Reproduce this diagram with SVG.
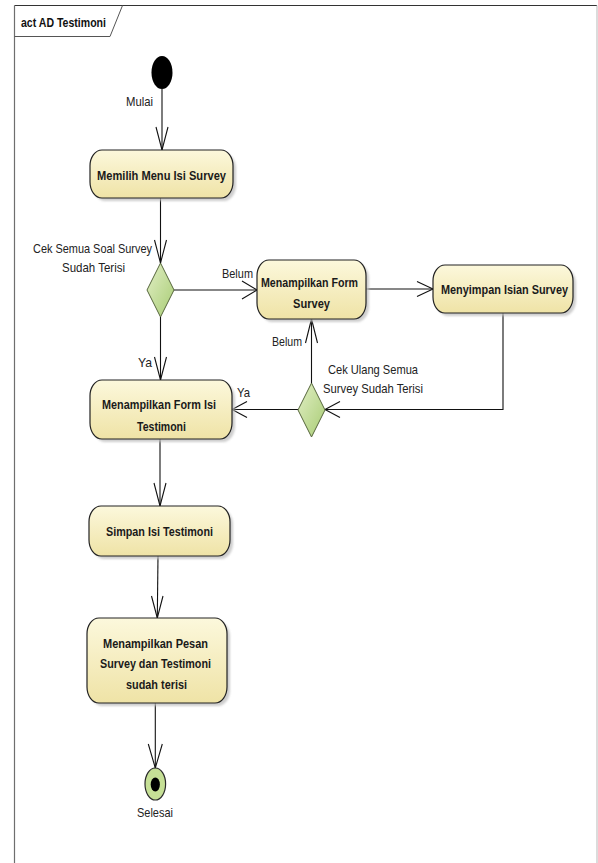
<svg xmlns="http://www.w3.org/2000/svg" width="598" height="863" viewBox="0 0 598 863">
  <defs>
    <linearGradient id="actFill" x1="0" y1="0" x2="0" y2="1">
      <stop offset="0" stop-color="#fcf8dc"/>
      <stop offset="1" stop-color="#efe3a6"/>
    </linearGradient>
    <linearGradient id="decFill" x1="0" y1="0" x2="1" y2="1">
      <stop offset="0" stop-color="#e2efc6"/>
      <stop offset="1" stop-color="#a8cc74"/>
    </linearGradient>
    <filter id="soft" x="-10%" y="-10%" width="130%" height="140%">
      <feGaussianBlur stdDeviation="1.2"/>
    </filter>
    <style>
      .frame { fill: none; stroke: #555; stroke-width: 1; }
      .shadow { fill: #bdbdbd; opacity: 0.75; filter: url(#soft); }
      .act { fill: url(#actFill); stroke: #222; stroke-width: 1.2; }
      .dec { fill: url(#decFill); stroke: #56663c; stroke-width: 1; }
      .edge { fill: none; stroke: #111; stroke-width: 1.1; }
      .head { fill: none; stroke: #111; stroke-width: 1.1; }
      .t-act { font-family: "Liberation Sans", Arial, sans-serif; font-size: 13.5px; font-weight: bold; fill: #1a1a1a; text-anchor: middle; }
      .t-lbl { font-family: "Liberation Sans", Arial, sans-serif; font-size: 13px; fill: #222; }
      .t-title { font-family: "Liberation Sans", Arial, sans-serif; font-size: 13px; font-weight: bold; fill: #111; }
    </style>
  </defs>

  <rect width="598" height="863" fill="#ffffff"/>

  <!-- diagram frame with name tab -->
  <g id="frame">
    <line x1="14.5" y1="5.5" x2="597" y2="5.5" stroke="#333" stroke-width="1"/>
    <line x1="14.5" y1="5.5" x2="14.5" y2="863" stroke="#6e6e6e" stroke-width="1.2"/>
    <line x1="597" y1="5.5" x2="597" y2="863" stroke="#c4c4c4" stroke-width="1.2"/>
    <path d="M14.5 36.5 H110 L122.5 5.5" class="frame" stroke="#333"/>
    <text class="t-title" x="21" y="27" textLength="85" lengthAdjust="spacingAndGlyphs">act AD Testimoni</text>
  </g>

  <!-- connectors -->
  <g id="connectors">
    <!-- start to Memilih Menu -->
    <line class="edge" x1="162" y1="89" x2="162" y2="150"/>
    <polyline class="head" points="156,127 162,150 168,127"/>
    <text class="t-lbl" x="126" y="106" textLength="27" lengthAdjust="spacingAndGlyphs">Mulai</text>

    <!-- Memilih Menu to first decision -->
    <line class="edge" x1="160.5" y1="198" x2="160.5" y2="263"/>
    <polyline class="head" points="154.5,240 160.5,263 166.5,240"/>

    <!-- decision to Menampilkan Form Survey (Belum) -->
    <line class="edge" x1="174" y1="290" x2="257" y2="290"/>
    <polyline class="head" points="242,281 257,290 242,299"/>
    <text class="t-lbl" x="222" y="278" textLength="31" lengthAdjust="spacingAndGlyphs">Belum</text>

    <!-- Form Survey to Menyimpan -->
    <line class="edge" x1="366" y1="289" x2="433" y2="289"/>
    <polyline class="head" points="417,281.5 433,289 417,296.5"/>

    <!-- Menyimpan back to second decision -->
    <polyline class="edge" points="503,313 503,409.5 325,409.5"/>
    <polyline class="head" points="340,401.5 325,409.5 340,417.5"/>

    <!-- second decision up to Form Survey (Belum) -->
    <line class="edge" x1="311.5" y1="383" x2="311.5" y2="319"/>
    <polyline class="head" points="305.5,343 311.5,319 317.5,343"/>
    <text class="t-lbl" x="272" y="346" textLength="30" lengthAdjust="spacingAndGlyphs">Belum</text>

    <!-- second decision to Form Isi Testimoni (Ya) -->
    <line class="edge" x1="298" y1="409.5" x2="232" y2="409.5"/>
    <polyline class="head" points="247,401.5 232,409.5 247,417.5"/>
    <text class="t-lbl" x="237" y="397" textLength="13" lengthAdjust="spacingAndGlyphs">Ya</text>

    <!-- first decision to Form Isi Testimoni (Ya) -->
    <line class="edge" x1="160.5" y1="317" x2="160.5" y2="380"/>
    <polyline class="head" points="154.5,357 160.5,380 166.5,357"/>
    <text class="t-lbl" x="138" y="367" textLength="14" lengthAdjust="spacingAndGlyphs">Ya</text>

    <!-- Form Isi Testimoni to Simpan -->
    <line class="edge" x1="160" y1="439" x2="160" y2="506"/>
    <polyline class="head" points="154,483 160,506 166,483"/>

    <!-- Simpan to Pesan -->
    <line class="edge" x1="158" y1="556" x2="157.3" y2="618"/>
    <polyline class="head" points="151.5,596 157.3,618 163,596"/>

    <!-- Pesan to end -->
    <line class="edge" x1="155.3" y1="703" x2="155.3" y2="768"/>
    <polyline class="head" points="148.3,744 155.3,768 162.3,744"/>
  </g>

  <!-- initial node -->
  <g id="start">
    <ellipse cx="162" cy="72.5" rx="10.5" ry="16.5" fill="#000"/>
  </g>

  <g id="memilih-menu">
    <rect class="shadow" x="93" y="153" width="143" height="48" rx="12" ry="16"/>
    <rect class="act" x="90" y="150" width="143" height="48" rx="12" ry="16"/>
    <text class="t-act" x="161.5" y="180" textLength="129" lengthAdjust="spacingAndGlyphs">Memilih Menu Isi Survey</text>
  </g>

  <g id="cek-survey">
    <polygon class="dec" points="160.5,263 174,290 160.5,317 147,290"/>
    <text class="t-lbl" x="33" y="253" textLength="119" lengthAdjust="spacingAndGlyphs">Cek Semua Soal Survey</text>
    <text class="t-lbl" x="62" y="272" textLength="63" lengthAdjust="spacingAndGlyphs">Sudah Terisi</text>
  </g>

  <g id="form-survey">
    <rect class="shadow" x="260" y="263" width="109" height="59" rx="12" ry="16"/>
    <rect class="act" x="257" y="260" width="109" height="59" rx="12" ry="16"/>
    <text class="t-act" x="309.5" y="287" textLength="97" lengthAdjust="spacingAndGlyphs">Menampilkan Form</text>
    <text class="t-act" x="311.5" y="308" textLength="37" lengthAdjust="spacingAndGlyphs">Survey</text>
  </g>

  <g id="simpan-survey">
    <rect class="shadow" x="436" y="268" width="140" height="48" rx="12" ry="16"/>
    <rect class="act" x="433" y="265" width="140" height="48" rx="12" ry="16"/>
    <text class="t-act" x="504.5" y="294" textLength="127" lengthAdjust="spacingAndGlyphs">Menyimpan Isian Survey</text>
  </g>

  <g id="cek-ulang">
    <polygon class="dec" points="311.5,383 325,410 311.5,437 298,410"/>
    <text class="t-lbl" x="328" y="374" textLength="90" lengthAdjust="spacingAndGlyphs">Cek Ulang Semua</text>
    <text class="t-lbl" x="323" y="393" textLength="100" lengthAdjust="spacingAndGlyphs">Survey Sudah Terisi</text>
  </g>

  <g id="form-testimoni">
    <rect class="shadow" x="93" y="383" width="142" height="59" rx="12" ry="16"/>
    <rect class="act" x="90" y="380" width="142" height="59" rx="12" ry="16"/>
    <text class="t-act" x="159" y="409" textLength="114" lengthAdjust="spacingAndGlyphs">Menampilkan Form Isi</text>
    <text class="t-act" x="161.5" y="431" textLength="49" lengthAdjust="spacingAndGlyphs">Testimoni</text>
  </g>

  <g id="simpan-testimoni">
    <rect class="shadow" x="92" y="509" width="141" height="50" rx="12" ry="16"/>
    <rect class="act" x="89" y="506" width="141" height="50" rx="12" ry="16"/>
    <text class="t-act" x="159.5" y="536" textLength="107" lengthAdjust="spacingAndGlyphs">Simpan Isi Testimoni</text>
  </g>

  <g id="pesan-terisi">
    <rect class="shadow" x="90" y="621" width="140" height="85" rx="12" ry="16"/>
    <rect class="act" x="87" y="618" width="140" height="85" rx="12" ry="16"/>
    <text class="t-act" x="155.5" y="648" textLength="105" lengthAdjust="spacingAndGlyphs">Menampilkan Pesan</text>
    <text class="t-act" x="155.5" y="668" textLength="111" lengthAdjust="spacingAndGlyphs">Survey dan Testimoni</text>
    <text class="t-act" x="156.5" y="689" textLength="61" lengthAdjust="spacingAndGlyphs">sudah terisi</text>
  </g>

  <!-- final node -->
  <g id="end">
    <ellipse cx="155.3" cy="784" rx="10.3" ry="16" fill="#c6e096" stroke="#2a2a2a" stroke-width="1.2"/>
    <ellipse cx="155.3" cy="784.5" rx="4.6" ry="7" fill="#000"/>
    <text class="t-lbl" x="137" y="817" textLength="36" lengthAdjust="spacingAndGlyphs">Selesai</text>
  </g>
</svg>
